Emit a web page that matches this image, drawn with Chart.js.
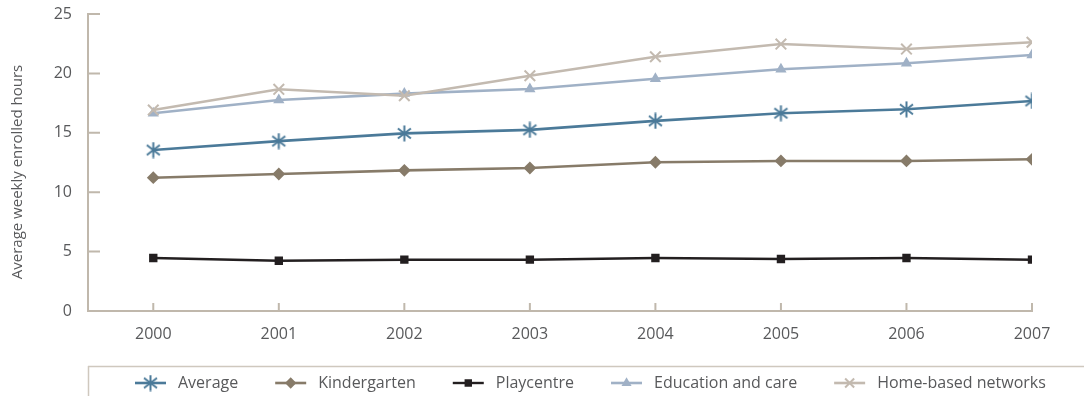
<!DOCTYPE html>
<html>
<head>
<meta charset="utf-8">
<script src="https://cdn.jsdelivr.net/npm/chart.js@4.4.1/dist/chart.umd.min.js"></script>
<style>
  html, body { margin: 0; padding: 0; background: #ffffff; }
  canvas { display: block; }
</style>
</head>
<body>
<canvas id="chart" width="1084" height="396"></canvas>
<script>
// Average weekly enrolled hours by service type, 2000-2007
const years = [2000, 2001, 2002, 2003, 2004, 2005, 2006, 2007];
const average        = [13.55, 14.3, 14.95, 15.25, 16.0, 16.65, 16.98, 17.68];
const kindergarten   = [11.22, 11.53, 11.84, 12.04, 12.52, 12.63, 12.63, 12.77];
const playcentre     = [4.46, 4.23, 4.32, 4.32, 4.46, 4.38, 4.46, 4.32];
const educationCare  = [16.64, 17.76, 18.3, 18.69, 19.55, 20.35, 20.85, 21.55];
const homeBased      = [16.92, 18.66, 18.12, 19.8, 21.4, 22.47, 22.05, 22.62];
const yTicks = [0, 5, 10, 15, 20, 25];
const seriesNames = ['Average', 'Kindergarten', 'Playcentre', 'Education and care', 'Home-based networks'];
const yTitle = 'Average weekly enrolled hours';

const FONT = '"Open Sans", "DejaVu Sans", sans-serif';
const AXIS = '#c0b8ac';
const TEXT = '#58595b';

function pts(values) {
  return values.map((v, i) => ({ x: years[i], y: v }));
}

// six-armed asterisk marker: a vertical stroke crossed by an X
function asterisk(color, size) {
  const c = document.createElement('canvas');
  c.width = size; c.height = size;
  const g = c.getContext('2d');
  const m = size / 2;
  g.strokeStyle = color;
  g.lineWidth = 2;
  g.beginPath();
  g.moveTo(m, 0.5); g.lineTo(m, size - 0.5);
  g.moveTo(m - 6.5, m - 5); g.lineTo(m + 6.5, m + 5);
  g.moveTo(m - 6.5, m + 5); g.lineTo(m + 6.5, m - 5);
  g.stroke();
  return c;
}

const styles = [
  { color: '#4b7a99', pointStyle: asterisk('#4b7a99', 17), radius: 8, width: 2.6 },
  { color: '#877b69', pointStyle: 'rectRot',  radius: 5,   width: 2.6 },
  { color: '#231f20', pointStyle: 'rect',     radius: 4.5, width: 2.4 },
  { color: '#a0b1c6', pointStyle: 'triangle', radius: 4.5, width: 2.6 },
  { color: '#c3bab0', pointStyle: 'crossRot', radius: 7.5, width: 2.6 }
];
const seriesValues = [average, kindergarten, playcentre, educationCare, homeBased];

const datasets = seriesNames.map((name, i) => ({
  label: name,
  data: pts(seriesValues[i]),
  borderColor: styles[i].color,
  backgroundColor: styles[i].color,
  borderWidth: styles[i].width,
  pointStyle: styles[i].pointStyle,
  pointRadius: styles[i].radius,
  pointBorderWidth: 2,
  pointBorderColor: styles[i].color,
  pointBackgroundColor: styles[i].color,
  tension: 0,
  fill: false,
  order: 5 - i
}));

// Inward tick marks, y title and the boxed legend below the axis
const decorations = {
  id: 'decorations',
  afterDraw(chart) {
    const { ctx, chartArea, scales: { x, y } } = chart;
    ctx.save();
    ctx.strokeStyle = AXIS;
    ctx.lineWidth = 2;
    ctx.beginPath();
    yTicks.forEach(v => {
      const py = y.getPixelForValue(v);
      ctx.moveTo(chartArea.left, py);
      ctx.lineTo(chartArea.left + 12, py);
    });
    years.forEach(v => {
      const px = x.getPixelForValue(v);
      ctx.moveTo(px, chartArea.bottom);
      ctx.lineTo(px, chartArea.bottom - 8);
    });
    ctx.stroke();

    // y axis title
    ctx.save();
    ctx.translate(18, 172);
    ctx.rotate(-Math.PI / 2);
    ctx.font = '15px ' + FONT;
    ctx.fillStyle = TEXT;
    ctx.textAlign = 'center';
    ctx.textBaseline = 'middle';
    ctx.fillText(yTitle, 0, 0);
    ctx.restore();

    // legend frame
    ctx.strokeStyle = '#cfc8be';
    ctx.lineWidth = 1.5;
    ctx.beginPath();
    ctx.moveTo(88, 366.5);
    ctx.lineTo(1084, 366.5);
    ctx.moveTo(88.5, 366);
    ctx.lineTo(88.5, 396);
    ctx.stroke();

    // legend items
    const ly = 383;
    let lx = 135;
    ctx.font = '16px ' + FONT;
    ctx.textBaseline = 'middle';
    ctx.textAlign = 'left';
    chart.data.datasets.forEach((ds) => {
      ctx.strokeStyle = ds.borderColor;
      ctx.fillStyle = ds.borderColor;
      ctx.lineWidth = ds.borderWidth;
      ctx.beginPath();
      ctx.moveTo(lx, ly);
      ctx.lineTo(lx + 31, ly);
      ctx.stroke();
      ctx.lineWidth = 2;
      Chart.helpers.drawPoint(ctx, {
        pointStyle: ds.pointStyle,
        radius: ds.pointRadius * 0.85,
        rotation: 0,
        borderWidth: 2
      }, lx + 15.5, ly);
      ctx.fillStyle = TEXT;
      ctx.fillText(ds.label, lx + 43, ly);
      lx += 43 + ctx.measureText(ds.label).width + 37;
    });
    ctx.restore();
  }
};

new Chart(document.getElementById('chart'), {
  type: 'line',
  data: { datasets },
  options: {
    responsive: false,
    animation: false,
    devicePixelRatio: 1,
    layout: { padding: { top: 14, right: 52, left: 0, bottom: 0 } },
    plugins: { legend: { display: false }, tooltip: { enabled: false } },
    scales: {
      x: {
        type: 'linear',
        min: 1999.48,
        max: 2007,
        afterFit(s) { s.height = 85; s.paddingLeft = 0; s.paddingRight = 0; },
        afterBuildTicks(s) { s.ticks = years.map(v => ({ value: v })); },
        grid: { display: false, drawTicks: false },
        border: { display: true, color: AXIS, width: 2 },
        ticks: {
          padding: 14,
          color: TEXT,
          font: { family: FONT, size: 16 },
          callback: v => String(v)
        }
      },
      y: {
        min: 0,
        max: 25,
        afterFit(s) { s.width = 88; s.paddingTop = 0; s.paddingBottom = 0; },
        afterBuildTicks(s) { s.ticks = yTicks.map(v => ({ value: v })); },
        grid: { display: false, drawTicks: false },
        border: { display: true, color: AXIS, width: 2 },
        ticks: {
          padding: 16,
          color: TEXT,
          font: { family: FONT, size: 16 }
        }
      }
    }
  },
  plugins: [decorations]
});
</script>
</body>
</html>
